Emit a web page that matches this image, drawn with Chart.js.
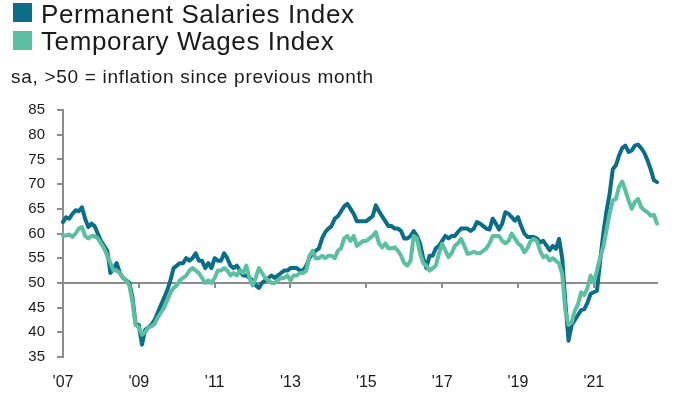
<!DOCTYPE html>
<html>
<head>
<meta charset="utf-8">
<script src="https://cdn.jsdelivr.net/npm/chart.js@4.4.1/dist/chart.umd.min.js"></script>
<style>
  html, body { margin: 0; padding: 0; background: #ffffff; }
  #wrap { position: relative; width: 685px; height: 399px; overflow: hidden; font-family: "Liberation Sans", Arial, sans-serif; color: #1a1a1a; }
  #chart { position: absolute; left: 0; top: 0; }
  .sq { position: absolute; left: 13px; width: 19px; height: 19px; }
  .lg { position: absolute; left: 41px; font-size: 26px; line-height: 26px; letter-spacing: 0.6px; white-space: nowrap; }
  #sub { position: absolute; left: 11px; top: 67px; font-size: 19px; line-height: 19px; letter-spacing: 0.7px; white-space: nowrap; }
</style>
</head>
<body>
<div id="wrap">
  <canvas id="chart" width="685" height="399"></canvas>
  <div class="sq" style="top:3px;background:#0a6e88;"></div>
  <div class="lg" style="top:1px;">Permanent Salaries Index</div>
  <div class="sq" style="top:31px;background:#5bbfa0;"></div>
  <div class="lg" style="top:28px;">Temporary Wages Index</div>
  <div id="sub">sa, &gt;50 = inflation since previous month</div>
</div>
<script>
// ---- data (monthly, Jan 2007 - Sep 2022) ----
const years = [2007,2008,2009,2010,2011,2012,2013,2014,2015,2016,2017,2018,2019,2020,2021,2022];
const monthNames = ["Jan","Feb","Mar","Apr","May","Jun","Jul","Aug","Sep","Oct","Nov","Dec"];
const lastYearMonths = 9;
const tickLabels = ["'07","'09","'11","'13","'15","'17","'19","'21"];

const permanentSalaries = [
  62.3, 63.3, 63, 64, 64.7, 64.5, 65.3, 63, 61.3, 62, 61.5, 60,
  58.5, 57.5, 56.5, 52, 53, 54, 52, 51, 50.5, 50, 47, 41.5,
  41.5, 37.5, 40.5, 41, 41.5, 42.5, 44, 45.5, 47, 48.5, 50.5, 53,
  53.5, 54, 54, 55, 54.5, 55, 56, 54.5, 54.5, 53, 54, 53,
  55, 54.5, 54.5, 56, 55, 53.5, 53, 53.5, 52.5, 51.5, 51.5, 51,
  50.5, 49.5, 49, 50, 50.5, 51, 51.5, 51, 51.5, 52, 52.5, 52.5,
  53, 53, 53, 52.5, 52.5, 53.5, 55, 56, 56.5, 57, 59, 60.3,
  61, 61.5, 63, 63.5, 64.5, 65.5, 66, 65, 64, 62.5, 62.5, 62.5,
  62.5, 63, 63.5, 65.7, 64.5, 63.5, 62.5, 61.5, 61.5, 61, 61, 60.5,
  59, 59, 59.5, 60.5, 59.5, 58, 55, 53, 55.5, 55.5, 57, 57.5,
  58.5, 59.5, 59, 59.5, 59.5, 60.3, 61, 61, 61, 60.5, 61, 62.3,
  62, 61.5, 61, 60.8, 63, 62, 60.8, 62, 64.3, 64, 63.3, 62.6,
  63.3, 61.5, 60, 59.3, 59.3, 59.3, 59, 58.2, 58.5, 57.6, 56.6, 57.5,
  56.9, 58.9, 55, 46, 38.3, 41.5, 42.5, 43.5, 44.5, 44.7, 46, 47.8,
  48.1, 48.4, 54.5, 60, 64.5, 68, 73, 73.8, 75.8, 77.3, 77.8, 76.5,
  76.8, 77.8, 78, 77.3, 76.3, 74.8, 73, 70.8, 70.4
];

const temporaryWages = [
  59.6, 59.6, 59.8, 59.3, 60, 61, 61.3, 59.5, 59, 59.5, 59.5, 59,
  58, 57, 55.5, 54, 52.5, 52.5, 52, 51, 50.5, 49.5, 46, 41.5,
  41, 39.5, 40, 41, 41.2, 41.7, 43, 44, 45, 46.5, 48, 49,
  49.5, 50.5, 51, 51.5, 52.5, 53, 52.5, 52, 51, 50, 50.5, 50,
  51, 52.5, 52.5, 53, 52.5, 51.5, 52, 51.5, 52.5, 52, 53.5, 51,
  49.5, 51, 53, 52, 51, 50.5, 50, 50, 50.5, 51, 51, 51.5,
  50.5, 51.5, 51.5, 52, 52, 52.5, 55.5, 56.5, 55, 55, 55.5, 55,
  55.5, 55.5, 55, 56.5, 57, 59, 59.5, 58.5, 59.5, 57.5, 58, 58.5,
  58.5, 59, 59.5, 60.3, 58, 57.2, 58, 57, 57, 57.2, 56.5, 55.5,
  54, 53.5, 54.5, 59.5, 59, 56, 54, 53.5, 52.5, 53, 53.5, 56,
  57.9, 56.6, 55.2, 56, 57.5, 58, 58.9, 57.5, 55.9, 56, 56.3, 56,
  56, 56.5, 57, 58, 59.5, 59.5, 59.5, 58.5, 58, 58.5, 60, 59,
  58, 57.5, 56.2, 57, 58.5, 58.9, 58.5, 56.5, 55.2, 55.5, 54.5, 55,
  54.5, 53.9, 51.8, 44.4, 41.5, 42, 44.4, 45.7, 48.1, 47.5, 49, 51.5,
  50.1, 52.5, 55.2, 57.2, 60.6, 64, 66.7, 67, 69.5, 70.5, 68.7, 66.7,
  65, 66.4, 67, 65.3, 64.7, 64.3, 63.6, 63.8, 62
];

// month categories built from the year list
const categories = [];
years.forEach((y, yi) => {
  const n = (yi === years.length - 1) ? lastYearMonths : 12;
  for (let m = 0; m < n; m++) categories.push(monthNames[m] + "-" + y);
});

const AXIS_GREY = "#8c8c8c";
const TEXT = "#1a1a1a";

// baseline at 50 with tick marks every two years
const baselinePlugin = {
  id: "baseline50",
  beforeDatasetsDraw(chart) {
    const { ctx, chartArea, scales } = chart;
    const y = scales.y.getPixelForValue(50);
    ctx.save();
    ctx.strokeStyle = AXIS_GREY;
    ctx.lineWidth = 2;
    ctx.beginPath();
    ctx.moveTo(chartArea.left, y);
    ctx.lineTo(chartArea.right + 1, y);
    ctx.stroke();
    for (let i = 24; i < categories.length; i += 24) {
      const x = Math.round(scales.x.getPixelForValue(i));
      ctx.beginPath();
      ctx.moveTo(x, y);
      ctx.lineTo(x, y + 5);
      ctx.stroke();
    }
    ctx.restore();
  }
};

new Chart(document.getElementById("chart"), {
  type: "line",
  data: {
    labels: categories,
    datasets: [
      {
        label: "Permanent Salaries Index",
        data: permanentSalaries,
        borderColor: "#0a6e88",
        backgroundColor: "#0a6e88",
        borderWidth: 4,
        pointRadius: 0,
        tension: 0,
        borderJoinStyle: "round",
        borderCapStyle: "round",
        order: 2
      },
      {
        label: "Temporary Wages Index",
        data: temporaryWages,
        borderColor: "#5bbfa0",
        backgroundColor: "#5bbfa0",
        borderWidth: 4,
        pointRadius: 0,
        tension: 0,
        borderJoinStyle: "round",
        borderCapStyle: "round",
        order: 1
      }
    ]
  },
  options: {
    responsive: false,
    animation: false,
    layout: { padding: { top: 110, right: 28, bottom: 0, left: 0 } },
    plugins: {
      legend: { display: false },
      tooltip: { enabled: false },
      title: { display: false }
    },
    scales: {
      x: {
        type: "category",
        offset: false,
        grid: { display: false, drawTicks: false },
        border: { display: false },
        ticks: {
          autoSkip: false,
          maxRotation: 0,
          minRotation: 0,
          padding: 16,
          color: TEXT,
          font: { family: "'Liberation Sans', Arial, sans-serif", size: 16 },
          callback: (val, idx) => (idx % 24 === 0 ? tickLabels[idx / 24] : "")
        },
        afterFit(scale) { scale.height = 42; }
      },
      y: {
        min: 35,
        max: 85,
        grid: {
          drawOnChartArea: false,
          drawTicks: true,
          tickLength: 6,
          color: AXIS_GREY,
          lineWidth: 2
        },
        border: { display: true, color: AXIS_GREY, width: 2 },
        ticks: {
          stepSize: 5,
          padding: 12,
          color: TEXT,
          font: { family: "'Liberation Sans', Arial, sans-serif", size: 15 }
        },
        afterFit(scale) { scale.width = 63; }
      }
    }
  },
  plugins: [baselinePlugin]
});
</script>
</body>
</html>
